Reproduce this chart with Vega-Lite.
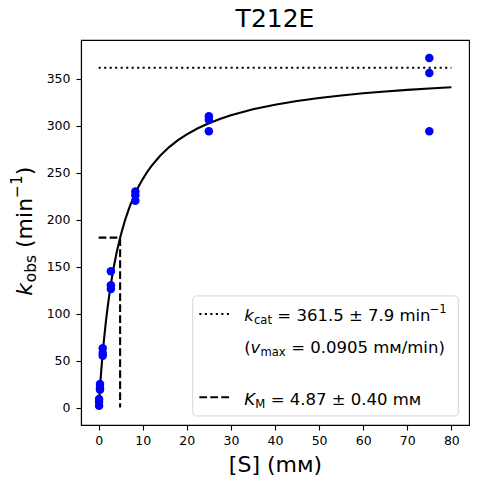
{
  "$schema": "https://vega.github.io/schema/vega-lite/v6.json",
  "autosize": {"type": "none"},
  "width": 388,
  "height": 385,
  "padding": {"left": 81, "top": 40, "right": 8, "bottom": 59},
  "title": {"text": "T212E", "fontSize": 25, "fontWeight": "normal", "font": "DejaVu Sans", "color": "black", "offset": 8},
  "datasets": {
    "obs": [
      {"S": 75, "k": 372}, {"S": 75, "k": 356}, {"S": 75, "k": 294},
      {"S": 25, "k": 310}, {"S": 25, "k": 306}, {"S": 25, "k": 294},
      {"S": 8.33, "k": 230}, {"S": 8.33, "k": 226}, {"S": 8.33, "k": 220},
      {"S": 2.78, "k": 145}, {"S": 2.78, "k": 130}, {"S": 2.78, "k": 126},
      {"S": 0.926, "k": 63}, {"S": 0.926, "k": 58}, {"S": 0.926, "k": 55},
      {"S": 0.309, "k": 25}, {"S": 0.309, "k": 21}, {"S": 0.309, "k": 19},
      {"S": 0.103, "k": 9}, {"S": 0.103, "k": 6}, {"S": 0.103, "k": 2}
    ],
    "fit": [
      {"S": 0, "k": 0}, {"S": 0.1, "k": 7.27}, {"S": 0.2, "k": 14.26},
      {"S": 0.35, "k": 24.24}, {"S": 0.5, "k": 33.66}, {"S": 0.75, "k": 48.24},
      {"S": 1, "k": 61.58}, {"S": 1.25, "k": 73.84}, {"S": 1.5, "k": 85.13},
      {"S": 1.75, "k": 95.56}, {"S": 2, "k": 105.24}, {"S": 2.5, "k": 122.63},
      {"S": 3, "k": 137.8}, {"S": 3.5, "k": 151.16}, {"S": 4, "k": 163.02},
      {"S": 4.5, "k": 173.61}, {"S": 5, "k": 183.13}, {"S": 6, "k": 199.54},
      {"S": 7, "k": 213.18}, {"S": 8, "k": 224.71}, {"S": 9, "k": 234.57},
      {"S": 10, "k": 243.11}, {"S": 11, "k": 250.57}, {"S": 12, "k": 257.14},
      {"S": 14, "k": 268.2}, {"S": 16, "k": 277.14}, {"S": 18, "k": 284.52},
      {"S": 20, "k": 290.71}, {"S": 22.5, "k": 297.18}, {"S": 25, "k": 302.56},
      {"S": 27.5, "k": 307.11}, {"S": 30, "k": 311.01}, {"S": 35, "k": 317.34},
      {"S": 40, "k": 322.27}, {"S": 45, "k": 326.2}, {"S": 50, "k": 329.42},
      {"S": 55, "k": 332.1}, {"S": 60, "k": 334.37}, {"S": 65, "k": 336.3},
      {"S": 70, "k": 337.99}, {"S": 75, "k": 339.46}, {"S": 80, "k": 340.75}
    ],
    "kcat": [{"S": 0, "k": 361.5}, {"S": 80, "k": 361.5}],
    "km": [
      {"S": 0, "k": 180.75, "i": 1},
      {"S": 4.87, "k": 180.75, "i": 2},
      {"S": 4.87, "k": 0, "i": 3}
    ],
    "one": [{"n": 1}]
  },
  "layer": [
    {
      "data": {"name": "kcat"},
      "mark": {"type": "line", "color": "black", "strokeWidth": 2.1, "strokeDash": [2.1, 3.4]},
      "encoding": {
        "x": {"field": "S", "type": "quantitative", "scale": {"domain": [-4, 84], "nice": false, "zero": false},
              "axis": {"title": "[S] (mᴍ)", "values": [0, 10, 20, 30, 40, 50, 60, 70, 80], "labelPadding": 4, "titlePadding": 8}},
        "y": {"field": "k", "type": "quantitative", "scale": {"domain": [-18.6, 391.1], "nice": false, "zero": false},
              "axis": {"title": null, "values": [0, 50, 100, 150, 200, 250, 300, 350], "labelPadding": 6}}
      }
    },
    {
      "data": {"name": "km"},
      "mark": {"type": "line", "color": "black", "strokeWidth": 2.1, "strokeDash": [7.7, 3.3]},
      "encoding": {
        "x": {"field": "S", "type": "quantitative"},
        "y": {"field": "k", "type": "quantitative"},
        "order": {"field": "i"}
      }
    },
    {
      "data": {"name": "fit"},
      "mark": {"type": "line", "color": "black", "strokeWidth": 2.1},
      "encoding": {
        "x": {"field": "S", "type": "quantitative"},
        "y": {"field": "k", "type": "quantitative"}
      }
    },
    {
      "data": {"name": "obs"},
      "mark": {"type": "circle", "color": "#0000ff", "opacity": 1, "size": 72},
      "encoding": {
        "x": {"field": "S", "type": "quantitative"},
        "y": {"field": "k", "type": "quantitative"}
      }
    },
    {
      "data": {"name": "one"},
      "layer": [
        {
          "mark": {"type": "rect", "fill": "white", "fillOpacity": 0.8, "stroke": "#cccccc", "strokeOpacity": 0.8, "strokeWidth": 1, "cornerRadius": 3},
          "encoding": {"x": {"datum": 21.34, "type": "quantitative"}, "x2": {"datum": 81.58}, "y": {"datum": 118.7, "type": "quantitative"}, "y2": {"datum": -9.0}}
        },
        {
          "mark": {"type": "rule", "color": "black", "strokeWidth": 2.1, "strokeDash": [2.1, 3.4]},
          "encoding": {"x": {"datum": 22.84, "type": "quantitative"}, "x2": {"datum": 29.64}, "y": {"datum": 99.5, "type": "quantitative"}}
        },
        {
          "mark": {"type": "rule", "color": "black", "strokeWidth": 2.1, "strokeDash": [7.7, 3.3]},
          "encoding": {"x": {"datum": 22.84, "type": "quantitative"}, "x2": {"datum": 29.64}, "y": {"datum": 10.9, "type": "quantitative"}}
        },
        {
          "mark": {"type": "text", "text": "k", "fontStyle": "italic", "fontSize": 16.5, "align": "left", "baseline": "alphabetic"},
          "encoding": {"x": {"datum": 33, "type": "quantitative"}, "y": {"datum": 92.1, "type": "quantitative"}}
        },
        {
          "mark": {"type": "text", "text": "cat", "fontSize": 11.6, "align": "left", "baseline": "alphabetic", "dx": 9.8, "dy": 3},
          "encoding": {"x": {"datum": 33, "type": "quantitative"}, "y": {"datum": 92.1, "type": "quantitative"}}
        },
        {
          "mark": {"type": "text", "text": "= 361.5 ± 7.9 min", "fontSize": 16.5, "align": "left", "baseline": "alphabetic", "dx": 33.2},
          "encoding": {"x": {"datum": 33, "type": "quantitative"}, "y": {"datum": 92.1, "type": "quantitative"}}
        },
        {
          "mark": {"type": "text", "text": "−1", "fontSize": 11.6, "align": "left", "baseline": "alphabetic", "dx": 185.5, "dy": -8},
          "encoding": {"x": {"datum": 33, "type": "quantitative"}, "y": {"datum": 92.1, "type": "quantitative"}}
        },
        {
          "mark": {"type": "text", "text": "(", "fontSize": 16.5, "align": "left", "baseline": "alphabetic"},
          "encoding": {"x": {"datum": 33, "type": "quantitative"}, "y": {"datum": 58.0, "type": "quantitative"}}
        },
        {
          "mark": {"type": "text", "text": "v", "fontStyle": "italic", "fontSize": 16.5, "align": "left", "baseline": "alphabetic", "dx": 6.4},
          "encoding": {"x": {"datum": 33, "type": "quantitative"}, "y": {"datum": 58.0, "type": "quantitative"}}
        },
        {
          "mark": {"type": "text", "text": "max", "fontSize": 11.6, "align": "left", "baseline": "alphabetic", "dx": 16.3, "dy": 3},
          "encoding": {"x": {"datum": 33, "type": "quantitative"}, "y": {"datum": 58.0, "type": "quantitative"}}
        },
        {
          "mark": {"type": "text", "text": "= 0.0905 mᴍ/min)", "fontSize": 16.5, "align": "left", "baseline": "alphabetic", "dx": 47},
          "encoding": {"x": {"datum": 33, "type": "quantitative"}, "y": {"datum": 58.0, "type": "quantitative"}}
        },
        {
          "mark": {"type": "text", "text": "K", "fontStyle": "italic", "fontSize": 16.5, "align": "left", "baseline": "alphabetic"},
          "encoding": {"x": {"datum": 33, "type": "quantitative"}, "y": {"datum": 3.2, "type": "quantitative"}}
        },
        {
          "mark": {"type": "text", "text": "M", "fontSize": 11.6, "align": "left", "baseline": "alphabetic", "dx": 11.2, "dy": 3},
          "encoding": {"x": {"datum": 33, "type": "quantitative"}, "y": {"datum": 3.2, "type": "quantitative"}}
        },
        {
          "mark": {"type": "text", "text": "= 4.87 ± 0.40 mᴍ", "fontSize": 16.5, "align": "left", "baseline": "alphabetic", "dx": 26.5},
          "encoding": {"x": {"datum": 33, "type": "quantitative"}, "y": {"datum": 3.2, "type": "quantitative"}}
        },
        {
          "mark": {"type": "text", "text": "k", "angle": 270, "fontStyle": "italic", "fontSize": 22, "align": "left", "baseline": "alphabetic", "dy": -48.7},
          "encoding": {"x": {"datum": -4, "type": "quantitative"}, "y": {"datum": 119, "type": "quantitative"}}
        },
        {
          "mark": {"type": "text", "text": "obs", "angle": 270, "fontSize": 15.4, "align": "left", "baseline": "alphabetic", "dx": 13.5, "dy": -45.2},
          "encoding": {"x": {"datum": -4, "type": "quantitative"}, "y": {"datum": 119, "type": "quantitative"}}
        },
        {
          "mark": {"type": "text", "text": "(min", "angle": 270, "fontSize": 22, "align": "left", "baseline": "alphabetic", "dx": 47.7, "dy": -48.7},
          "encoding": {"x": {"datum": -4, "type": "quantitative"}, "y": {"datum": 119, "type": "quantitative"}}
        },
        {
          "mark": {"type": "text", "text": "−1", "angle": 270, "fontSize": 15.4, "align": "left", "baseline": "alphabetic", "dx": 97.8, "dy": -59},
          "encoding": {"x": {"datum": -4, "type": "quantitative"}, "y": {"datum": 119, "type": "quantitative"}}
        },
        {
          "mark": {"type": "text", "text": ")", "angle": 270, "fontSize": 22, "align": "left", "baseline": "alphabetic", "dx": 120.5, "dy": -48.7},
          "encoding": {"x": {"datum": -4, "type": "quantitative"}, "y": {"datum": 119, "type": "quantitative"}}
        }
      ]
    }
  ],
  "config": {
    "font": "DejaVu Sans",
    "view": {"stroke": "black", "strokeWidth": 1.1},
    "text": {"color": "black"},
    "axis": {
      "grid": false,
      "domainColor": "black",
      "domainWidth": 1.1,
      "tickColor": "black",
      "tickWidth": 1.1,
      "tickSize": 5,
      "labelColor": "black",
      "labelFontSize": 12.5,
      "labelFont": "DejaVu Sans",
      "titleColor": "black",
      "titleFont": "DejaVu Sans",
      "titleFontSize": 22,
      "titleFontWeight": "normal"
    }
  }
}
